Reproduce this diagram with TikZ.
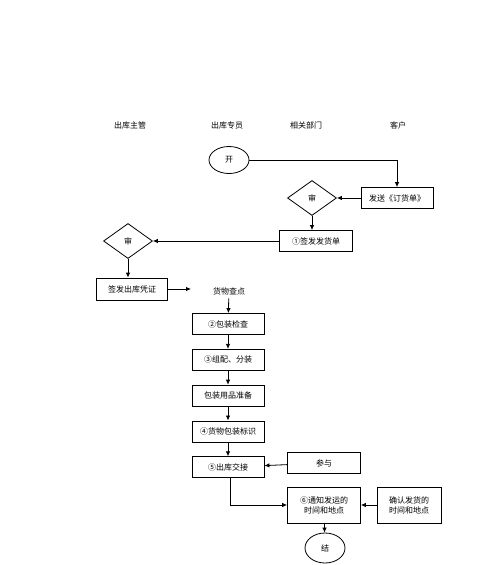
\documentclass[tikz,border=0pt]{standalone}
\usepackage{fontspec}
\setmainfont{Noto Sans CJK SC}
\usetikzlibrary{positioning,shapes.geometric,arrows.meta}

\begin{document}
\begin{tikzpicture} [
                x=1pt, y=-1pt,
                font=\fontsize{8}{10}\selectfont,
                every path/.style={line width=0.8pt},
                arr/.style={-{Latex[length=5pt,width=4.5pt]}},
                stepbox/.style={
                    rectangle,
                    draw,
                    minimum width=72pt,
                    minimum height=21pt,
                    inner sep=1pt
                },
                twobox/.style={
                    stepbox,
                    minimum height=36pt,
                    align=center
                },
                checknode/.style={
                    diamond,
                    draw,
                    minimum width=49pt,
                    minimum height=35pt,
                    inner sep=0pt
                },
                endnode/.style={
                    ellipse,
                    draw,
                    minimum width=40pt,
                    minimum height=27pt,
                    inner sep=0pt
                },
                node distance=14pt
            ]
                \useasboundingbox (0,0) rectangle (500,565);
                % lanes
                \node (lane1) at (130,125) {出库主管};
                \node (lane2) at (227,125) {出库专员};
                \node (lane3) at (306,125) {相关部门};
                \node (lane4) at (398,125) {客户};
                % top part
                \node[endnode] (start) at (229,160) {开};
                \node[stepbox] (order) at (397,198) {发送《订货单》};
                \node[checknode] (chk1) at (312,198) {审};
                \node[stepbox, minimum width=73pt] (issue) at (316,241) {①签发发货单};
                \node[checknode] (chk2) at (128,241) {审};
                \node[stepbox, thick, minimum width=71pt, minimum height=22pt] (voucher) at (132,289) {签发出库凭证};
                \coordinate (cntin) at (191,289);
                \node (count) at (229,291) {货物查点};
                % packing chain
                \node[stepbox] (pchk) at (228,324) {②包装检查};
                \node[stepbox, thick] (assem) [below=of pchk] {③组配、分装};
                \node[stepbox] (prep) [below=of assem] {包装用品准备};
                \node[stepbox, thick] (mark) [below=of prep] {④货物包装标识};
                \node[stepbox] (hand) [below=of mark] {⑤出库交接};
                \node[stepbox, minimum width=73pt] (join) at (324,463) {参与};
                \node[twobox, minimum width=73pt] (notify) at (324,505) {⑥通知发运的\\时间和地点};
                \node[twobox, minimum width=64pt] (confirm) at (409,505) {确认发货的\\时间和地点};
                \node[endnode, minimum height=30pt] (stop) at (325,548) {结};
                % connectors
                \draw[arr] (start.east) -| (order.north);
                \draw[arr] (order.west) -- (chk1.east);
                \draw[arr] (chk1.south) -- (chk1.south |- issue.north);
                \draw[arr] (issue.west) -- (chk2.east);
                \draw[arr] (chk2.south) -- (chk2.south |- voucher.north);
                \draw[arr] (voucher.east) -- (cntin);
                \draw[arr] (count) -- (pchk);
                \draw[arr] (pchk) -- (assem);
                \draw[arr] (assem) -- (prep);
                \draw[arr] (prep) -- (mark);
                \draw[arr] (mark) -- (hand);
                \draw[arr] (join) -- (hand);
                \draw[arr] ([xshift=2pt]hand.south) |- (notify.west);
                \draw[arr, {Latex[length=5pt,width=4.5pt]}-] (notify) -- (confirm);
                \draw[arr] (notify) -- (stop);
            \end{tikzpicture}
\end{document}
